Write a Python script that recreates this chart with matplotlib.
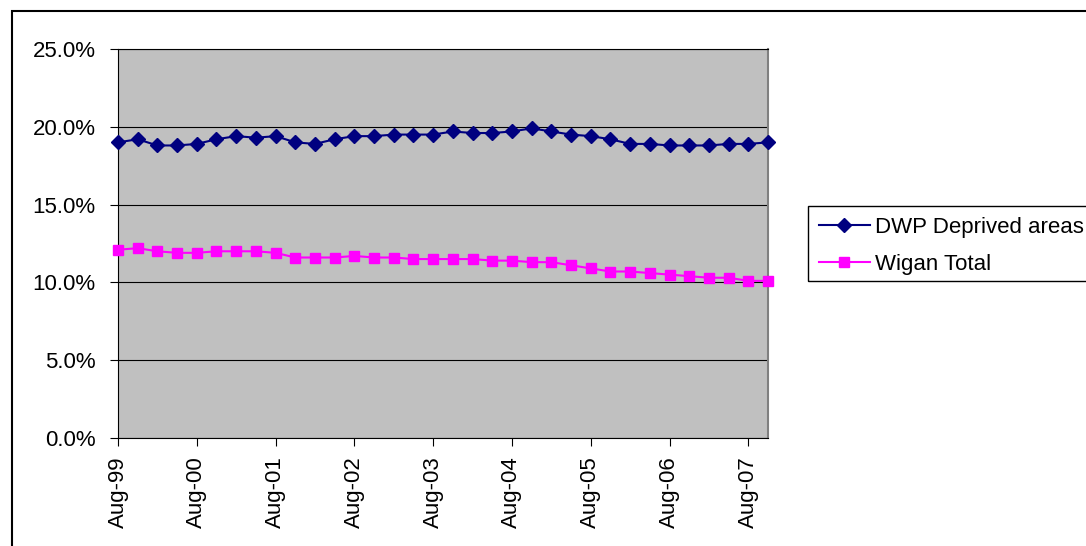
import matplotlib
matplotlib.use("Agg")
from matplotlib import pyplot as plt
from matplotlib.patches import Rectangle

plt.rcParams['font.family'] = ['Liberation Sans', 'DejaVu Sans']

# quarterly rates, Aug-99 .. Nov-07 (percent)
dwp_deprived = [19.0, 19.2, 18.8, 18.8, 18.9, 19.2, 19.4, 19.3, 19.4, 19.0,
                18.9, 19.2, 19.4, 19.4, 19.5, 19.5, 19.5, 19.7, 19.6, 19.6,
                19.7, 19.9, 19.7, 19.5, 19.4, 19.2, 18.9, 18.9, 18.8, 18.8,
                18.8, 18.9, 18.9, 19.0]
wigan_total = [12.1, 12.2, 12.0, 11.9, 11.9, 12.0, 12.0, 12.0, 11.9, 11.6,
               11.6, 11.6, 11.7, 11.6, 11.6, 11.5, 11.5, 11.5, 11.5, 11.4,
               11.4, 11.3, 11.3, 11.1, 10.9, 10.7, 10.7, 10.6, 10.5, 10.4,
               10.3, 10.3, 10.1, 10.1]
tick_labels = ['Aug-99', 'Aug-00', 'Aug-01', 'Aug-02', 'Aug-03',
               'Aug-04', 'Aug-05', 'Aug-06', 'Aug-07']
y_ticks = [0, 5, 10, 15, 20, 25]

W, H = 1086, 546
fig = plt.figure(figsize=(W / 100, H / 100), dpi=100)
fig.patch.set_facecolor('white')

# outer chart border (runs off the right and bottom edges)
fig.patches.append(Rectangle((12 / W, -0.1), 1.2, 1 - 11 / H + 0.1,
                             transform=fig.transFigure, fill=False,
                             edgecolor='black', linewidth=1.5))

ax = fig.add_axes([118 / W, 1 - 438 / H, (768 - 118) / W, (438 - 49) / H])
ax.set_facecolor('#C0C0C0')

xs = list(range(len(dwp_deprived)))
ax.plot(xs, dwp_deprived, color='#000080', linewidth=1.5, marker='D',
        markersize=7, label='DWP Deprived areas', clip_on=False, zorder=3)
ax.plot(xs, wigan_total, color='#FF00FF', linewidth=1.5, marker='s',
        markersize=7, label='Wigan Total', clip_on=False, zorder=3)

ax.set_xlim(0, len(xs) - 1)
ax.set_ylim(0, 25)
ax.set_yticks(y_ticks)
ax.set_yticklabels(['%.1f%%' % v for v in y_ticks])
ax.set_xticks(range(0, len(xs), 4))
ax.set_xticklabels(tick_labels, rotation=90)

ax.yaxis.grid(True, color='black', linewidth=0.8)
ax.set_axisbelow(True)
ax.tick_params(axis='y', direction='out', length=6, width=0.8, pad=10,
               labelsize=16, colors='black')
ax.tick_params(axis='x', direction='out', length=6, width=0.8, pad=7,
               labelsize=16, colors='black')

for side in ['left', 'bottom', 'top']:
    ax.spines[side].set_color('black')
    ax.spines[side].set_linewidth(0.8)
ax.spines['right'].set_color('#808080')
ax.spines['right'].set_linewidth(1.5)

# legend box is cut off by the right edge, so its frame is drawn separately
fig.patches.append(Rectangle((808 / W, 1 - 281 / H), 0.5, 75 / H,
                             transform=fig.transFigure, fill=False,
                             edgecolor='black', linewidth=1.0))
leg = fig.legend(loc='upper left', bbox_to_anchor=(808 / W, 1 - 206 / H),
                 frameon=False, fontsize=16,
                 handlelength=2.3, handletextpad=0.25, borderpad=0.48,
                 labelspacing=0.72, borderaxespad=0)

fig.savefig('out.png', dpi=100)
